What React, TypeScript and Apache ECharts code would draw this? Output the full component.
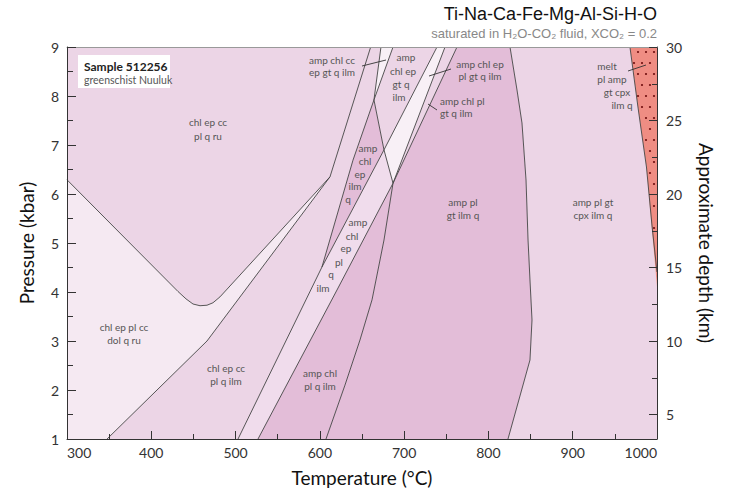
import React, { useEffect, useRef } from 'react';
import * as echarts from 'echarts';

// ---- Phase boundaries (T in °C, P in kbar) ----
const V_CURVE = [[300, 6.29], [431.7, 4.01], [441.2, 3.86], [449.5, 3.755], [457.8, 3.72], [466.1, 3.73], [473.2, 3.78], [481.5, 3.9], [612, 6.35]];
const LOWER_LINE = [[347.5, 1], [466.1, 3.0], [612, 6.35]];
const L1_LINE = [[612, 6.35], [660.3, 9]];
const B_LINE = [[502.9, 1], [602.5, 4.51]];
const DARK_LEFT = [[602.5, 4.51], [639.3, 6.69], [664.2, 7.92], [672.5, 9]];
const APEX_LINE = [[686.8, 9], [664.2, 7.92], [676.1, 6.9], [686.8, 6.22]];
const F_LINE = [[602.5, 4.51], [676.1, 6.9], [739, 9]];
const WHITE_RIGHT = [[686.8, 6.22], [748.5, 9]];
const G_LINE = [[686.8, 6.22], [762.7, 9]];
const C_LINE = [[526.6, 1], [620.3, 4.04], [686.8, 6.22]];
const D_LINE = [[607.3, 1], [629.8, 2.1], [647.6, 3.02], [661.9, 3.84], [676.1, 5.06], [686.8, 6.22]];
const E_LINE = [[823.2, 1], [849.3, 2.612], [851.7, 3.429], [849.3, 4.245], [847.0, 5.061], [844.6, 6.286], [839.8, 7.449], [833.9, 8.122], [825.6, 9]];
const MELT_LINE = [[967.9, 9], [977.4, 7.776], [987.5, 6.551], [994.0, 5.367], [1000, 4.408]];
const MELT_EDGE = [[967.9, 9], [977.4, 7.776], [987.5, 6.551], [993.4, 5.367], [1000, 4.102]];

const BOUNDARIES = [V_CURVE, LOWER_LINE, L1_LINE, B_LINE, DARK_LEFT, APEX_LINE, F_LINE, WHITE_RIGHT, G_LINE, C_LINE, D_LINE, E_LINE, MELT_LINE];

const rev = (a: number[][]) => a.slice().reverse();

// ---- Stability fields (polygons built from the boundaries) ----
const R_CHL_EP_CC_PL_Q_RU = [[300, 9], [660.3, 9], ...rev(V_CURVE)];
const R_CHL_EP_PL_CC_DOL = [...V_CURVE, [466.1, 3.0], [347.5, 1], [300, 1]];
const R_CHL_EP_CC_PL_Q_ILM = [[347.5, 1], ...B_LINE, ...DARK_LEFT.slice(1), [660.3, 9], [612, 6.35], [466.1, 3.0]];
const R_AMP_CHL_CC = [[672.5, 9], [686.8, 9], [664.2, 7.92]];
const R_AMP_CHL_EP_ILM_Q = [[602.5, 4.51], [639.3, 6.69], [664.2, 7.92], [676.1, 6.9]];
const R_AMP_CHL_EP_GT = [[686.8, 9], [739, 9], [676.1, 6.9], [664.2, 7.92]];
const R_AMP_CHL_EP_PL_GT = [[739, 9], [748.5, 9], [686.8, 6.22], [676.1, 6.9]];
const R_AMP_CHL_EP_PL_Q = [[502.9, 1], ...C_LINE, [676.1, 6.9], [602.5, 4.51]];
const R_AMP_CHL_PL_GT = [[748.5, 9], [762.7, 9], [686.8, 6.22]];
const R_AMP_CHL_PL_Q = [...D_LINE, ...rev(C_LINE).slice(1)];
const R_AMP_PL_GT = [...E_LINE, [762.7, 9], ...rev(D_LINE)];
const R_AMP_PL_GT_CPX = [[823.2, 1], [1000, 1], ...rev(MELT_EDGE), ...rev(E_LINE)];
const R_MELT = [[1000, 9], ...rev(MELT_EDGE)];

const REGION_POLYS = [R_CHL_EP_CC_PL_Q_RU, R_CHL_EP_PL_CC_DOL, R_CHL_EP_CC_PL_Q_ILM, R_AMP_CHL_CC, R_AMP_CHL_EP_ILM_Q, R_AMP_CHL_EP_GT, R_AMP_CHL_EP_PL_GT, R_AMP_CHL_EP_PL_Q, R_AMP_CHL_PL_GT, R_AMP_CHL_PL_Q, R_AMP_PL_GT, R_AMP_PL_GT_CPX, R_MELT];

const PINK = '#ecd5e6';
const LIGHT = '#f5e9f2';
const WHITE = '#f8f0f6';
const BAND = '#f0dcec';
const DARK = '#e3bdd8';
const MELT = '#ef8d83';
const REGION_FILLS = [PINK, LIGHT, PINK, WHITE, DARK, PINK, WHITE, BAND, PINK, DARK, DARK, PINK, MELT];
const MELT_INDEX = 12;

const FONT = 'Lato, "Noto Sans", sans-serif';
const LABEL_COLOR = '#555';

// annotation layout (pixel positions)
const FIELD_LABELS: [string, number, number][] = [
  ['chl ep cc', 208, 122], ['pl q ru', 208, 136],
  ['chl ep pl cc', 124, 327], ['dol q ru', 124, 340],
  ['chl ep cc', 226, 368], ['pl q ilm', 226, 381],
  ['amp chl', 320, 373], ['pl q ilm', 320, 386],
  ['amp pl', 463, 202], ['gt ilm q', 463, 215],
  ['amp pl gt', 593, 202], ['cpx ilm q', 593, 215],
  ['amp chl cc', 332, 60], ['ep gt q ilm', 332, 72],
  ['amp', 406, 57], ['chl ep', 403, 71], ['gt q', 401, 84], ['ilm', 399, 97],
  ['amp chl ep', 480, 64], ['pl gt q ilm', 480, 76],
  ['amp', 368, 148], ['chl', 365, 161], ['ep', 360, 174], ['ilm', 355, 186], ['q', 348, 199],
  ['amp', 358, 222], ['chl', 352, 236], ['ep', 346, 248], ['pl', 339, 262], ['q', 331, 274], ['ilm', 323, 288],
  ['melt', 607, 66], ['pl amp', 612, 79], ['gt cpx', 617, 92], ['ilm q', 622, 105],
];
const LEFT_LABELS: [string, number, number][] = [['amp chl pl', 440, 101], ['gt q ilm', 440, 113]];
const LEADERS = [[362, 66, 386, 60], [429, 76, 451, 69], [428, 104, 437, 110], [628, 71, 646, 65]];

function inside(x: number, y: number, pts: number[][]) {
  let c = false;
  for (let i = 0, j = pts.length - 1; i < pts.length; j = i++) {
    const [xi, yi] = pts[i];
    const [xj, yj] = pts[j];
    if ((yi > y) !== (yj > y) && x < ((xj - xi) * (y - yi)) / (yj - yi) + xi) c = !c;
  }
  return c;
}

export default function App() {
  const ref = useRef<HTMLDivElement>(null);
  useEffect(() => {
    document.body.style.margin = '0';
    const chart = echarts.init(ref.current!, null, { renderer: 'svg' });

    const tickStyle = { color: '#333', width: 1 };
    const axisLabel = { fontSize: 14, color: '#333', fontFamily: FONT };
    const nameStyle = { fontSize: 19, color: '#111', fontFamily: FONT };

    const graphics: any[] = [
      { type: 'text', x: 657, y: 14, style: { text: 'Ti-Na-Ca-Fe-Mg-Al-Si-H-O', align: 'right', verticalAlign: 'middle', font: '18px "Liberation Sans", Arial, sans-serif', fill: '#111' } },
      { type: 'text', x: 657, y: 33, style: { text: 'saturated in H₂O-CO₂ fluid, XCO₂ = 0.2', align: 'right', verticalAlign: 'middle', font: '13px "Liberation Sans", Arial, sans-serif', fill: '#888' } },
      { type: 'rect', shape: { x: 78, y: 55, width: 92, height: 33 }, style: { fill: '#fff' }, z: 20 },
      { type: 'text', x: 84, y: 66, z: 21, style: { text: 'Sample 512256', verticalAlign: 'middle', font: 'bold 12px ' + FONT, fill: '#222' } },
      { type: 'text', x: 84, y: 79.5, z: 21, style: { text: 'greenschist Nuuluk', verticalAlign: 'middle', font: '10.5px ' + FONT, fill: '#555' } },
    ];
    FIELD_LABELS.forEach(([t, x, y]) => graphics.push({ type: 'text', x, y, z: 20, style: { text: t, align: 'center', verticalAlign: 'middle', font: '10px ' + FONT, fill: LABEL_COLOR } }));
    LEFT_LABELS.forEach(([t, x, y]) => graphics.push({ type: 'text', x, y, z: 20, style: { text: t, align: 'left', verticalAlign: 'middle', font: '10px ' + FONT, fill: LABEL_COLOR } }));
    LEADERS.forEach(([x1, y1, x2, y2]) => graphics.push({ type: 'line', z: 20, shape: { x1, y1, x2, y2 }, style: { stroke: '#333', lineWidth: 0.9 } }));

    const option: any = {
      animation: false,
      grid: { left: 67, right: 73, top: 47, bottom: 54, outerBoundsMode: 'none' },
      xAxis: [
        {
          type: 'value', min: 300, max: 1000, interval: 100, position: 'bottom', z: 10,
          axisLine: { show: true, lineStyle: tickStyle },
          axisTick: { show: true, inside: true, length: 8, lineStyle: tickStyle },
          minorTick: { show: true, splitNumber: 2, length: 5, lineStyle: tickStyle },
          splitLine: { show: false }, minorSplitLine: { show: false },
          axisLabel: { ...axisLabel, margin: 6, alignMinLabel: 'left', alignMaxLabel: 'right', formatter: (v: number) => String(v) },
          name: 'Temperature (°C)', nameLocation: 'middle', nameGap: 29, nameTextStyle: nameStyle,
        },
        {
          type: 'value', min: 300, max: 1000, position: 'top', z: 10,
          axisLine: { show: true, lineStyle: { color: '#999', width: 1 } },
          axisTick: { show: false }, axisLabel: { show: false }, splitLine: { show: false },
        },
      ],
      yAxis: [
        {
          type: 'value', min: 1, max: 9, interval: 1, position: 'left', z: 10,
          axisLine: { show: true, lineStyle: tickStyle },
          axisTick: { show: true, inside: true, length: 9, lineStyle: tickStyle },
          minorTick: { show: true, splitNumber: 2, length: 6, lineStyle: tickStyle },
          splitLine: { show: false }, minorSplitLine: { show: false },
          axisLabel: { ...axisLabel, margin: 8 },
          name: 'Pressure (kbar)', nameLocation: 'middle', nameGap: 31, nameTextStyle: nameStyle,
        },
        {
          type: 'value', min: 10 / 3, max: 30, minInterval: 5, maxInterval: 5, position: 'right', z: 10,
          axisLine: { show: true, lineStyle: tickStyle },
          axisTick: { show: true, inside: true, length: 8, lineStyle: tickStyle },
          splitLine: { show: false },
          axisLabel: { ...axisLabel, margin: 9, formatter: (v: number) => (Math.abs(v % 5) < 1e-6 ? String(v) : '') },
          name: 'Approximate depth (km)', nameLocation: 'middle', nameGap: 40, nameRotate: -90, nameTextStyle: nameStyle,
        },
        {
          type: 'value', min: 10 / 3, max: 30, minInterval: 2.5, maxInterval: 2.5, position: 'right', z: 10,
          axisLine: { show: true, lineStyle: { color: 'rgba(0,0,0,0)' } },
          axisTick: { show: true, inside: true, length: 5, lineStyle: tickStyle },
          splitLine: { show: false }, axisLabel: { show: false },
        },
      ],
      graphic: graphics,
      series: [
        {
          type: 'custom', xAxisIndex: 0, yAxisIndex: 0, z: 1, silent: true, clip: true,
          data: REGION_POLYS.map((p) => [p[0][0], p[0][1]]),
          renderItem: (params: any, api: any) => {
            const i = params.dataIndex;
            const pts = REGION_POLYS[i].map((p) => api.coord(p));
            const children: any[] = [{ type: 'polygon', shape: { points: pts }, style: { fill: REGION_FILLS[i] } }];
            if (i === MELT_INDEX) {
              let minX = Infinity, maxX = -Infinity, minY = Infinity, maxY = -Infinity;
              pts.forEach(([x, y]: number[]) => { minX = Math.min(minX, x); maxX = Math.max(maxX, x); minY = Math.min(minY, y); maxY = Math.max(maxY, y); });
              let r = 0;
              for (let y = minY + 5; y < maxY; y += 11, r++) {
                for (let x = maxX - 3 - (r % 2) * 4; x > minX; x -= 8) {
                  if (inside(x - 1.5, y, pts) && inside(x + 1.5, y, pts)) {
                    children.push({ type: 'circle', shape: { cx: x, cy: y, r: 1.1 }, style: { fill: '#7a1818' } });
                  }
                }
              }
            }
            return { type: 'group', children };
          },
        },
        ...BOUNDARIES.map((b) => ({
          type: 'line', xAxisIndex: 0, yAxisIndex: 0, data: b, showSymbol: false, symbol: 'none', silent: true, z: 3,
          lineStyle: { color: '#444', width: 0.9 },
        })),
      ],
    };
    chart.setOption(option);
    return () => chart.dispose();
  }, []);
  return <div ref={ref} style={{ width: 730, height: 493 }} />;
}
